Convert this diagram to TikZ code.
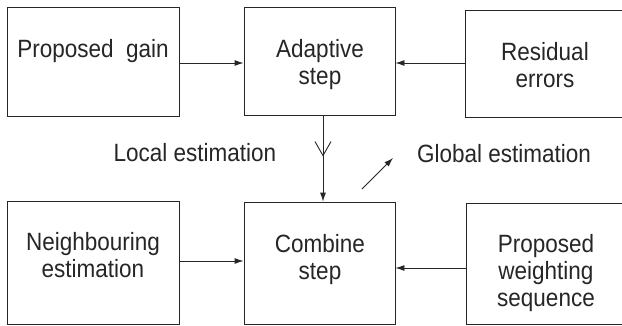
\documentclass[tikz,border=0pt]{standalone}
\usepackage{fontspec}
\setmainfont{Liberation Sans}[FakeStretch=0.9]
\usetikzlibrary{arrows.meta,decorations.markings}
\begin{document}
\begin{tikzpicture}[x=1pt,y=-1pt,
  boxnode/.style={draw=black!85,line width=0.9pt,inner sep=0pt,rectangle},
  txt/.style={inner sep=0pt,align=center,anchor=base,text=black!85,font=\fontsize{25}{27}\selectfont},
  arr/.style={draw=black!85,line width=0.9pt,-{Latex[length=9pt,width=6pt]}},
  midv/.style={postaction={decorate},decoration={markings,mark=at position 41pt with {\arrow{Straight Barb[length=14pt,width=16pt,line width=0.9pt]}}}}
]
\useasboundingbox (0,0) rectangle (622,325);
\fill[white] (0,0) rectangle (622,325);
% boxes
\node[boxnode,minimum width=172pt,minimum height=109pt] (b1) at (93,61.5) {};
\node[boxnode,minimum width=151pt,minimum height=108pt] (b2) at (319.5,61) {};
\node[boxnode,minimum width=158pt,minimum height=107pt] (b3) at (544,63.5) {};
\node[boxnode,minimum width=172pt,minimum height=123pt] (b4) at (93,262.5) {};
\node[boxnode,minimum width=151pt,minimum height=122pt] (b5) at (319.5,263) {};
\node[boxnode,minimum width=157pt,minimum height=121pt] (b6) at (544.5,263.5) {};
% texts (base = baseline of last line)
\node[txt] (t1) at (93,57) {Proposed\ \ gain};
\node[txt] (t2) at (320,84) {Adaptive\\step};
\node[txt] (t3) at (545,87) {Residual\\errors};
\node[txt] (t4) at (93,277) {Neighbouring\\estimation};
\node[txt] (t5) at (320,279) {Combine\\step};
\node[txt] (t6) at (546,306) {Proposed\\weighting\\sequence};
\node[txt] (tl) at (195,161) {Local estimation};
\node[txt] (tg) at (504,162) {Global estimation};
% connectors
\draw[arr] (b1.east|-0,63) -- (b2.west|-0,63);
\draw[arr] (b3.west|-0,63) -- (b2.east|-0,63);
\draw[arr] (b4.east|-0,261) -- (b5.west|-0,261);
\draw[arr] (b6.west|-0,268) -- (b5.east|-0,268);
\draw[arr,midv] (b2.south-|323,0) -- (b5.north-|323,0);
\coordinate (g1) at (362,189);
\coordinate (g2) at (393,158);
\draw[arr] (g1) -- (g2);
\end{tikzpicture}
\end{document}
